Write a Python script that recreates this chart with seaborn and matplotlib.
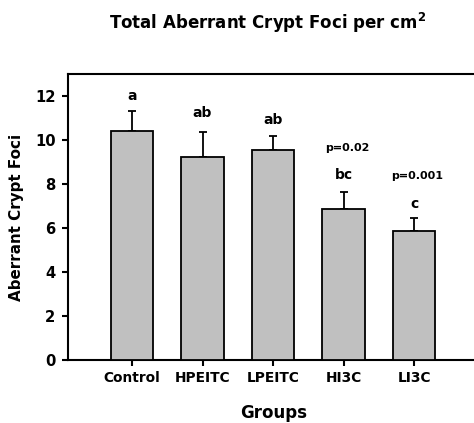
import matplotlib
matplotlib.use("Agg")
import matplotlib.pyplot as plt
import seaborn as sns
import numpy as np

# Mean total ACF per cm^2 and standard errors for each treatment group
groups = ["Control", "HPEITC", "LPEITC", "HI3C", "LI3C"]
means = [10.41, 9.24, 9.55, 6.88, 5.86]
sems = [0.91, 1.11, 0.63, 0.77, 0.61]

# Significance letters and p-values above the bars
letters = ["a", "ab", "ab", "bc", "c"]
letter_y = [12.0, 11.23, 10.9, 8.41, 7.09]
pvalues = ["", "", "", "p=0.02", "p=0.001"]
pvalue_y = [0, 0, 0, 9.65, 8.36]

yticks = [0, 2, 4, 6, 8, 10, 12]

sns.set_theme(style="white")
plt.rcParams["font.family"] = ["DejaVu Sans"]
plt.rcParams["font.weight"] = "bold"
plt.rcParams["mathtext.fontset"] = "custom"
plt.rcParams["mathtext.rm"] = "DejaVu Sans:bold"
plt.rcParams["mathtext.bf"] = "DejaVu Sans:bold"

fig = plt.figure(figsize=(4.74, 4.23), dpi=100)
ax = fig.add_axes([68 / 474, 63 / 423, 406 / 474, 286 / 423])

sns.barplot(x=groups, y=means, color="#c0c0c0", saturation=1,
            edgecolor="black", linewidth=1.3, width=0.6, ax=ax, zorder=3)

xpos = np.arange(len(groups))
ax.errorbar(xpos, means, yerr=[np.zeros(len(sems)), sems], fmt="none",
            ecolor="black", elinewidth=1.3, capsize=3, capthick=1.3, zorder=2)

for i, (lab, ly) in enumerate(zip(letters, letter_y)):
    ax.text(i, ly, lab, ha="center", va="center", fontsize=10,
            fontweight="bold", color="black")
for i, (pv, py) in enumerate(zip(pvalues, pvalue_y)):
    if pv:
        ax.text(i + 0.05, py, pv, ha="center", va="center", fontsize=8,
                fontweight="bold", color="black")

ax.set_xlim(-0.908, 4.85)
ax.set_ylim(0, 13)
ax.set_yticks(yticks)
ax.set_yticklabels([str(t) for t in yticks])

for side in ["left", "top", "bottom"]:
    ax.spines[side].set_color("black")
    ax.spines[side].set_linewidth(1.5)
ax.spines["right"].set_visible(False)

ax.tick_params(axis="both", which="major", direction="out", length=4,
               width=1.5, color="black", labelcolor="black",
               left=True, bottom=True)
ax.tick_params(axis="y", labelsize=10.6, pad=5)
ax.tick_params(axis="x", labelsize=9.9, pad=4)
for lbl in ax.get_xticklabels() + ax.get_yticklabels():
    lbl.set_fontweight("bold")

ax.set_ylabel("Aberrant Crypt Foci", fontsize=10.9, fontweight="bold",
              color="black", va="center")
ax.yaxis.set_label_coords(-0.126, 0.5)
ax.set_xlabel("Groups", fontsize=12, fontweight="bold", color="black",
              va="center")
ax.xaxis.set_label_coords(0.507, -53 / 286)

fig.text(268 / 474, 1 - 23 / 423,
         r"Total Aberrant Crypt Foci per cm$^{\mathbf{2}}$",
         ha="center", va="center", fontsize=12, fontweight="bold",
         color="black")

fig.savefig("out.png", dpi=100, facecolor="white")
